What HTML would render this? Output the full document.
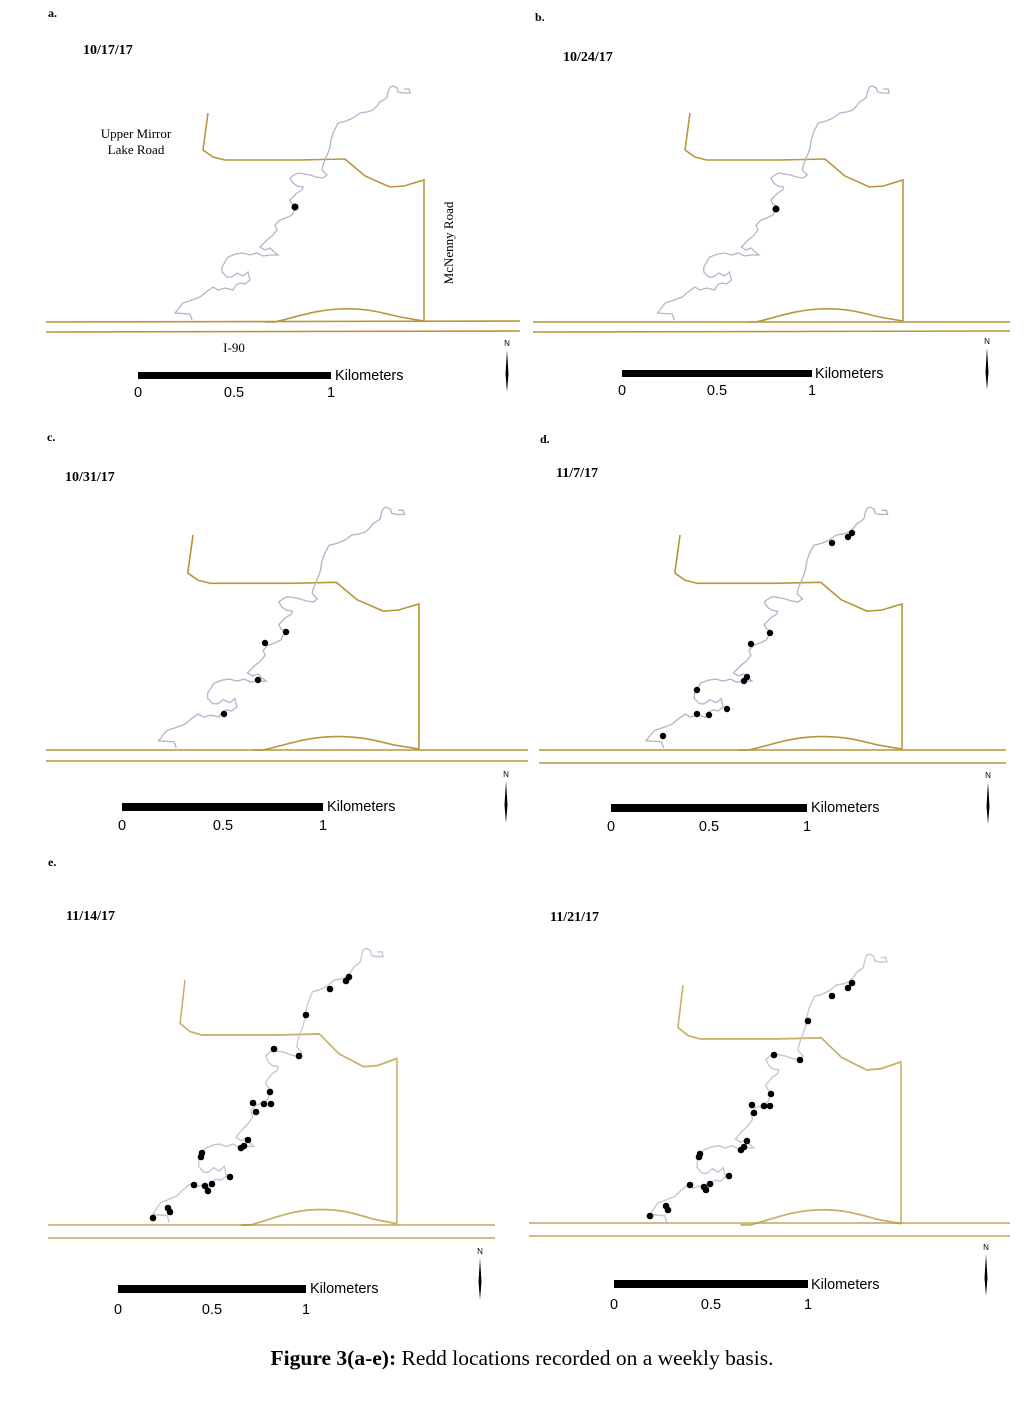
<!DOCTYPE html>
<html><head><meta charset="utf-8"><style>
body{margin:0;background:#fff;}
svg{display:block;}
.s{font-family:"Liberation Serif",serif;}
.a{font-family:"Liberation Sans",sans-serif;}
</style></head><body>
<svg width="1027" height="1418" viewBox="0 0 1027 1418" xmlns="http://www.w3.org/2000/svg">
<defs>
<g id="map">
<path d="M208,113 L205,135 L203,150 L213,157 L225,160 L300,160 L345,159 L352,165 L365,176 L390,187 L404,186 L424,180 L424,321" fill="none" stroke="#b8963c" stroke-width="1.6"/>
<path d="M265,322 L275,322 C300,316 315,310 340,309 C365,308 380,312 400,317 L424,321" fill="none" stroke="#b8963c" stroke-width="1.6"/>
<path d="M192,320 L190,314 L175,313 L183,303 L192,300 L200,297 L206,292 L213,287 L218,290 L225,288 L233,290 L236,285 L240,283 L245,284 L250,280 L248,272 L243,276 L237,273 L232,277 L227,277 L222,272 L222,267 L225,262 L228,257 L236,254 L243,253 L250,255 L257,253 L263,256 L270,255 L278,255 L273,251 L270,248 L265,250 L260,247 L264,243 L267,240 L272,236 L277,230 L275,225 L280,220 L286,218 L292,215 L294,211 L297,207 L292,204 L290,200 L294,196 L297,193 L302,190 L303,187 L297,186 L293,183 L290,178 L294,175 L298,173 L305,174 L310,175 L316,177 L323,178 L327,175 L322,170 L323,165 L325,160 L328,153 L330,147 L331,140 L333,133 L338,123 L346,121 L353,118 L360,113 L367,112 L373,110 L377,106 L380,102 L385,99 L387,97 L388,92 L390,87 L393,86 L397,88 L398,92 L403,93 L410,93 L409,89 L404,89" fill="none" stroke="#b4b4cc" stroke-width="1.3"/>
</g>
<g id="na"><text x="0" y="0" font-size="8" class="a" text-anchor="middle">N</text><path d="M0,4 L1.5,28 L0,46 L-1.5,28 Z" fill="#000"/></g>
</defs>

<g class="s" font-weight="bold" font-size="12">
<text x="48" y="17">a.</text><text x="535" y="21">b.</text><text x="47" y="441">c.</text><text x="540" y="443">d.</text><text x="48" y="866">e.</text>
</g>
<g class="s" font-weight="bold" font-size="14">
<text x="83" y="54">10/17/17</text><text x="563" y="61">10/24/17</text><text x="65" y="481">10/31/17</text><text x="556" y="477">11/7/17</text><text x="66" y="920">11/14/17</text><text x="550" y="921">11/21/17</text>
</g>

<g fill="none" stroke="#b8963c" stroke-width="1.6">
<path d="M46,322 L520,321 M46,332 L520,331"/>
<path d="M533,322 L1010,322 M533,332 L1010,331"/>
<path d="M46,750 L528,750 M46,761 L528,761"/>
<path d="M539,750 L1006,750 M539,763 L1006,763"/>
</g>
<g fill="none" stroke="#d2bb85" stroke-width="2">
<path d="M48,1225 L495,1225 M48,1238 L495,1238"/>
<path d="M529,1223 L1010,1223 M529,1236 L1010,1236"/>
</g>

<!-- a -->
<use href="#map"/>
<g class="s" font-size="13"><text x="136" y="138" text-anchor="middle">Upper Mirror</text><text x="136" y="154" text-anchor="middle">Lake Road</text>
<text x="234" y="352" text-anchor="middle">I-90</text>
<text transform="translate(453,243) rotate(-90)" text-anchor="middle">McNenny Road</text></g>
<circle cx="295" cy="207" r="3.5"/>
<!-- b -->
<use href="#map" transform="translate(690,113) scale(0.986,1) translate(-208,-113)"/>
<circle cx="776" cy="209" r="3.5"/>
<!-- c -->
<use href="#map" transform="translate(193,535) scale(1.046,1.029) translate(-208,-113)"/>
<g><circle cx="286" cy="632" r="3.2"/><circle cx="265" cy="643" r="3.2"/><circle cx="258" cy="680" r="3.2"/><circle cx="224" cy="714" r="3.2"/></g>
<!-- d -->
<use href="#map" transform="translate(680,535) scale(1.028,1.029) translate(-208,-113)"/>
<g><circle cx="852" cy="533" r="3.2"/><circle cx="848" cy="537" r="3.2"/><circle cx="832" cy="543" r="3.2"/><circle cx="770" cy="633" r="3.2"/><circle cx="751" cy="644" r="3.2"/><circle cx="747" cy="677" r="3.2"/><circle cx="744" cy="681" r="3.2"/><circle cx="697" cy="690" r="3.2"/><circle cx="727" cy="709" r="3.2"/><circle cx="709" cy="715" r="3.2"/><circle cx="697" cy="714" r="3.2"/><circle cx="663" cy="736" r="3.2"/></g>
<!-- e -->
<use href="#map" transform="translate(185,980) scale(0.981,1.172) translate(-208,-113)" opacity="0.75"/>
<g><circle cx="349" cy="977" r="3.3"/><circle cx="346" cy="981" r="3.3"/><circle cx="330" cy="989" r="3.3"/><circle cx="306" cy="1015" r="3.3"/><circle cx="274" cy="1049" r="3.3"/><circle cx="299" cy="1056" r="3.3"/><circle cx="270" cy="1092" r="3.3"/><circle cx="271" cy="1104" r="3.3"/><circle cx="264" cy="1104" r="3.3"/><circle cx="253" cy="1103" r="3.3"/><circle cx="256" cy="1112" r="3.3"/><circle cx="248" cy="1140" r="3.3"/><circle cx="244" cy="1146" r="3.3"/><circle cx="241" cy="1148" r="3.3"/><circle cx="202" cy="1153" r="3.3"/><circle cx="201" cy="1157" r="3.3"/><circle cx="230" cy="1177" r="3.3"/><circle cx="212" cy="1184" r="3.3"/><circle cx="205" cy="1186" r="3.3"/><circle cx="208" cy="1191" r="3.3"/><circle cx="194" cy="1185" r="3.3"/><circle cx="168" cy="1208" r="3.3"/><circle cx="170" cy="1212" r="3.3"/><circle cx="153" cy="1218" r="3.3"/></g>
<!-- f -->
<use href="#map" transform="translate(683,985) scale(1.009,1.148) translate(-208,-113)" opacity="0.75"/>
<g><circle cx="852" cy="983" r="3.3"/><circle cx="848" cy="988" r="3.3"/><circle cx="832" cy="996" r="3.3"/><circle cx="808" cy="1021" r="3.3"/><circle cx="774" cy="1055" r="3.3"/><circle cx="800" cy="1060" r="3.3"/><circle cx="771" cy="1094" r="3.3"/><circle cx="770" cy="1106" r="3.3"/><circle cx="764" cy="1106" r="3.3"/><circle cx="752" cy="1105" r="3.3"/><circle cx="754" cy="1113" r="3.3"/><circle cx="747" cy="1141" r="3.3"/><circle cx="744" cy="1147" r="3.3"/><circle cx="741" cy="1150" r="3.3"/><circle cx="700" cy="1154" r="3.3"/><circle cx="699" cy="1157" r="3.3"/><circle cx="729" cy="1176" r="3.3"/><circle cx="710" cy="1184" r="3.3"/><circle cx="704" cy="1187" r="3.3"/><circle cx="706" cy="1190" r="3.3"/><circle cx="690" cy="1185" r="3.3"/><circle cx="666" cy="1206" r="3.3"/><circle cx="668" cy="1210" r="3.3"/><circle cx="650" cy="1216" r="3.3"/></g>

<!-- scale bars -->
<g class="a" font-size="14.5">
<rect x="138" y="372" width="193" height="7"/><text x="335" y="380">Kilometers</text><text x="138" y="397" text-anchor="middle">0</text><text x="234" y="397" text-anchor="middle">0.5</text><text x="331" y="397" text-anchor="middle">1</text>
<rect x="622" y="370" width="190" height="7"/><text x="815" y="378">Kilometers</text><text x="622" y="395" text-anchor="middle">0</text><text x="717" y="395" text-anchor="middle">0.5</text><text x="812" y="395" text-anchor="middle">1</text>
<rect x="122" y="803" width="201" height="8"/><text x="327" y="811">Kilometers</text><text x="122" y="830" text-anchor="middle">0</text><text x="223" y="830" text-anchor="middle">0.5</text><text x="323" y="830" text-anchor="middle">1</text>
<rect x="611" y="804" width="196" height="8"/><text x="811" y="812">Kilometers</text><text x="611" y="831" text-anchor="middle">0</text><text x="709" y="831" text-anchor="middle">0.5</text><text x="807" y="831" text-anchor="middle">1</text>
<rect x="118" y="1285" width="188" height="8"/><text x="310" y="1293">Kilometers</text><text x="118" y="1314" text-anchor="middle">0</text><text x="212" y="1314" text-anchor="middle">0.5</text><text x="306" y="1314" text-anchor="middle">1</text>
<rect x="614" y="1280" width="194" height="8"/><text x="811" y="1289">Kilometers</text><text x="614" y="1309" text-anchor="middle">0</text><text x="711" y="1309" text-anchor="middle">0.5</text><text x="808" y="1309" text-anchor="middle">1</text>
</g>
<use href="#na" transform="translate(507,346)"/>
<use href="#na" transform="translate(987,344)"/>
<use href="#na" transform="translate(506,777)"/>
<use href="#na" transform="translate(988,778)"/>
<use href="#na" transform="translate(480,1254)"/>
<use href="#na" transform="translate(986,1250)"/>

<text x="522" y="1365" text-anchor="middle" class="s" font-size="21.5"><tspan font-weight="bold">Figure 3(a-e):</tspan> Redd locations recorded on a weekly basis.</text>
</svg>
</body></html>
